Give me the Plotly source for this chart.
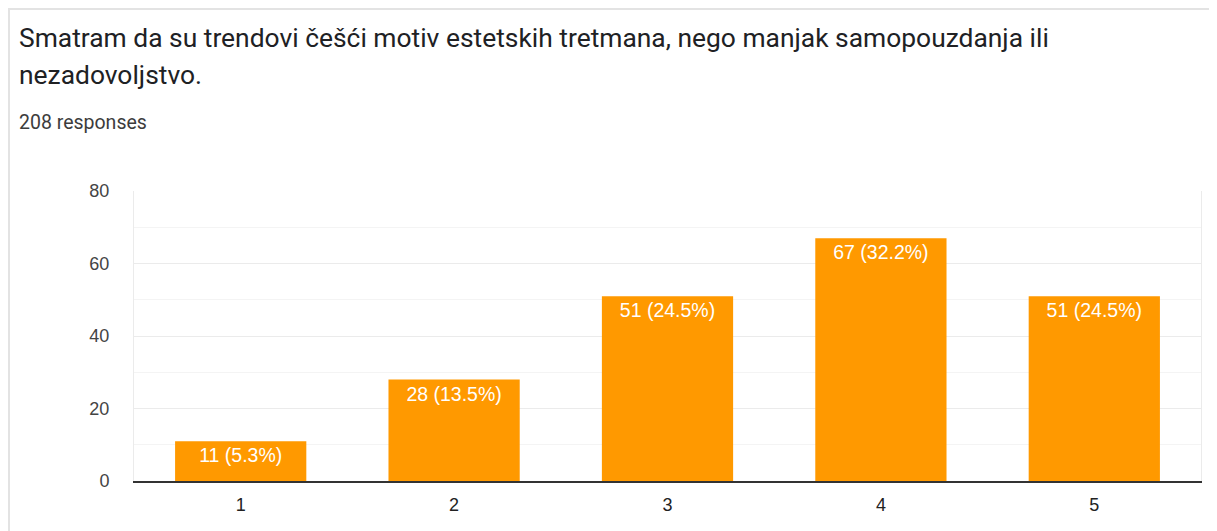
import plotly.graph_objects as go

categories = ["1", "2", "3", "4", "5"]
counts = [11, 28, 51, 67, 51]
total_responses = 208
title_line1 = "Smatram da su trendovi češći motiv estetskih tretmana, nego manjak samopouzdanja ili"
title_line2 = "nezadovoljstvo."
subtitle = f"{total_responses} responses"
y_ticks = [0, 20, 40, 60, 80]

labels = [f"{c} ({c / total_responses * 100:.1f}%)" for c in counts]

# page has an 8px body margin; work in screenshot pixels and convert
OFF = 8
W, H = 1217 - OFF, 531 - OFF
L, R, T, B = 134 - OFF, 1201 - OFF, 191 - OFF, 481 - OFF

def px(x):
    return (x - OFF - L) / (R - L)

def py(y):
    return (B - (y - OFF)) / (B - T)

fig = go.Figure(go.Bar(
    x=categories, y=counts, text=labels,
    textposition="inside", insidetextanchor="end",
    textfont=dict(family="Liberation Sans, Arial", size=19.5, color="white"),
    marker=dict(color="#ff9900", line=dict(width=0)),
    width=0.615, cliponaxis=False, hoverinfo="skip",
))

fig.update_layout(
    width=W, height=H,
    margin=dict(l=L, r=W - R, t=T, b=H - B, pad=0),
    paper_bgcolor="white", plot_bgcolor="white",
    showlegend=False,
    uniformtext=dict(mode=False),
    xaxis=dict(
        showgrid=False, showline=True, linecolor="#333333", linewidth=2,
        ticks="", tickfont=dict(family="Liberation Sans, Arial", size=18, color="#222222"),
        ticklabelstandoff=6, fixedrange=True,
    ),
    yaxis=dict(
        range=[0, 80], tickvals=y_ticks, showgrid=True, gridcolor="#ebebeb", gridwidth=1,
        minor=dict(dtick=10, showgrid=True, gridcolor="#f4f4f4", gridwidth=1),
        showline=True, mirror=True, linecolor="#ebebeb", linewidth=1,
        zeroline=False, ticks="",
        tickfont=dict(family="Liberation Sans, Arial", size=18, color="#444444"),
        ticklabelstandoff=20, fixedrange=True,
    ),
    shapes=[
        dict(type="line", xref="paper", yref="paper", x0=px(8), x1=px(1230), y0=py(9), y1=py(9),
             line=dict(color="#e3e3e3", width=2)),
        dict(type="line", xref="paper", yref="paper", x0=px(9), x1=px(9), y0=py(9), y1=py(540),
             line=dict(color="#e3e3e3", width=2)),
    ],
    annotations=[
        dict(text=title_line1, xref="paper", yref="paper", x=px(17), y=py(38),
             xanchor="left", yanchor="middle", showarrow=False,
             font=dict(family="Roboto", size=26.4, color="#202124")),
        dict(text=title_line2, xref="paper", yref="paper", x=px(17), y=py(75),
             xanchor="left", yanchor="middle", showarrow=False,
             font=dict(family="Roboto", size=26.4, color="#202124")),
        dict(text=subtitle, xref="paper", yref="paper", x=px(17), y=py(122),
             xanchor="left", yanchor="middle", showarrow=False,
             font=dict(family="Roboto", size=19.5, color="#3c3c3c")),
    ],
)

fig.write_html("out.html")
